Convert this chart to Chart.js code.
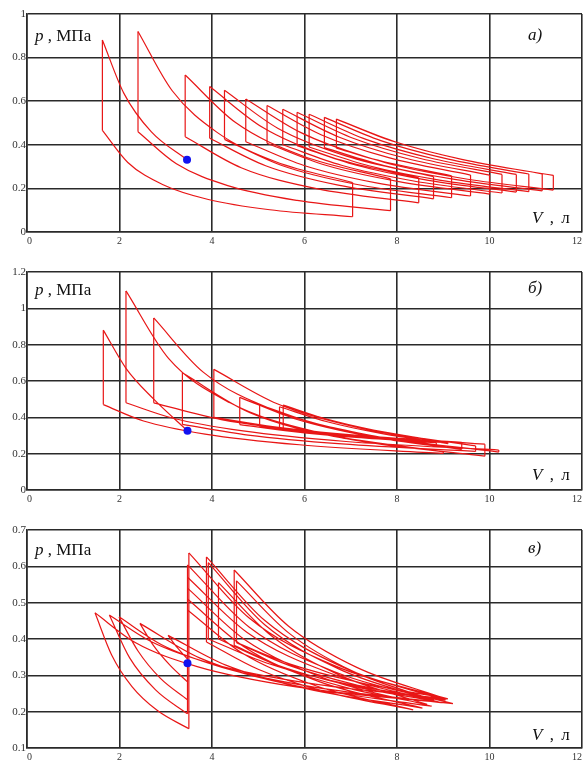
<!DOCTYPE html>
<html>
<head>
<meta charset="utf-8">
<script src="https://cdn.jsdelivr.net/npm/chart.js@4.4.1/dist/chart.umd.min.js"></script>
<style>
  html, body { margin: 0; padding: 0; background: #fff; }
  body { width: 586px; height: 763px; overflow: hidden; position: relative; }
  canvas { position: absolute; left: 0; }
  .lbl { position: absolute; font-family: 'Liberation Serif', 'DejaVu Serif', serif; font-size: 17px; line-height: 17px; color: #111; white-space: nowrap; }
  .lbl i { font-style: italic; }
  .vl { word-spacing: 3px; }
</style>
</head>
<body>
<canvas id="ca" width="586" height="258" style="top:0px"></canvas>
<canvas id="cb" width="586" height="258" style="top:258px"></canvas>
<canvas id="cc" width="586" height="258" style="top:516px"></canvas>

<div class="lbl" style="left:35px;top:26.5px"><i>p</i> , МПа</div>
<div class="lbl" style="left:528px;top:25.5px"><i>а)</i></div>
<div class="lbl vl" style="left:532px;top:209px"><i>V</i> , л</div>

<div class="lbl" style="left:35px;top:280.5px"><i>p</i> , МПа</div>
<div class="lbl" style="left:528px;top:279px"><i>б)</i></div>
<div class="lbl vl" style="left:532px;top:466px"><i>V</i> , л</div>

<div class="lbl" style="left:35px;top:541px"><i>p</i> , МПа</div>
<div class="lbl" style="left:528px;top:538.5px"><i>в)</i></div>
<div class="lbl vl" style="left:532px;top:726px"><i>V</i> , л</div>

<script>
// ---------- tick labels ----------
const xTicks = [0, 2, 4, 6, 8, 10, 12];
const xTickLabels = ['0', '2', '4', '6', '8', '10', '12'];
const yTicksA = [0, 0.2, 0.4, 0.6, 0.8, 1];
const yTickLabelsA = ['0', '0.2', '0.4', '0.6', '0.8', '1'];
const yTicksB = [0, 0.2, 0.4, 0.6, 0.8, 1, 1.2];
const yTickLabelsB = ['0', '0.2', '0.4', '0.6', '0.8', '1', '1.2'];
const yTicksC = [0.1, 0.2, 0.3, 0.4, 0.5, 0.6, 0.7];
const yTickLabelsC = ['0.1', '0.2', '0.3', '0.4', '0.5', '0.6', '0.7'];

// ---------- panel а) ----------
const aDot = [3.46, 0.331];
// isochoric lines [V, p low, p high]
const aLeft = [[1.63,0.466,0.881],[2.40,0.46,0.92],[3.42,0.437,0.72],[3.95,0.43,0.667],[4.27,0.425,0.65],[4.73,0.414,0.61],
               [5.19,0.407,0.58],[5.53,0.40,0.563],[5.84,0.396,0.549],[6.10,0.39,0.54],[6.43,0.387,0.526],[6.69,0.384,0.518]];
const aRight = [[7.04,0.070,0.227],[7.86,0.098,0.244],[8.47,0.134,0.248],[8.79,0.152,0.254],[9.18,0.157,0.258],[9.59,0.165,0.261],
                [10.0,0.174,0.261],[10.27,0.179,0.264],[10.58,0.183,0.264],[10.85,0.185,0.266],[11.14,0.189,0.267],[11.38,0.1925,0.26]];
const aLower = [
  [[1.63,0.466],[2.18,0.319],[2.93,0.218],[3.92,0.149],[5.25,0.102],[7.04,0.070]],
  [[2.40,0.46],[3.23,0.313],[4.34,0.213],[5.84,0.145],[7.86,0.098]],
  [[3.42,0.437],[4.63,0.295],[6.26,0.199],[8.47,0.134]],
  [[3.95,0.43],[5.16,0.304],[6.73,0.215],[8.79,0.152]],
  [[4.27,0.425],[5.51,0.305],[7.11,0.219],[9.18,0.157]],
  [[4.73,0.414],[5.99,0.305],[7.58,0.224],[9.59,0.165]],
  [[5.19,0.407],[6.46,0.306],[8.04,0.231],[10.0,0.174]],
  [[5.53,0.40],[6.80,0.306],[8.36,0.234],[10.27,0.179]],
  [[5.84,0.396],[7.12,0.306],[8.68,0.237],[10.58,0.183]],
  [[6.10,0.39],[7.39,0.304],[8.95,0.237],[10.85,0.185]],
  [[6.43,0.387],[7.72,0.305],[9.28,0.240],[11.14,0.189]],
  [[6.69,0.384],[7.99,0.305],[9.53,0.242],[11.38,0.1925]]
];
const aUpper = [
  [[1.63,0.881],[2.095,0.636],[2.69,0.459],[3.46,0.331]],
  [[2.40,0.92],[3.14,0.648],[4.11,0.457],[5.38,0.322],[7.04,0.227]],
  [[3.42,0.72],[4.51,0.502],[5.95,0.350],[7.86,0.244]],
  [[3.95,0.667],[5.10,0.479],[6.57,0.344],[8.47,0.248]],
  [[4.27,0.65],[5.43,0.475],[6.91,0.348],[8.79,0.254]],
  [[4.73,0.61],[5.90,0.458],[7.36,0.343],[9.18,0.258]],
  [[5.19,0.58],[6.37,0.445],[7.82,0.341],[9.59,0.261]],
  [[5.53,0.563],[6.74,0.436],[8.21,0.337],[10.0,0.261]],
  [[5.84,0.549],[7.05,0.43],[8.51,0.337],[10.27,0.264]],
  [[6.10,0.54],[7.33,0.425],[8.81,0.335],[10.58,0.264]],
  [[6.43,0.526],[7.65,0.419],[9.11,0.334],[10.85,0.266]],
  [[6.69,0.518],[7.93,0.415],[9.40,0.333],[11.14,0.267]],
  [[6.69,0.518],[7.99,0.4115],[9.53,0.327],[11.38,0.26]]
];

// ---------- panel б) ----------
const bDot = [3.47, 0.326];
const bLeft = [[1.65,0.47,0.88],[2.14,0.48,1.096],[2.74,0.48,0.947],[3.36,0.361,0.645],[4.04,0.40,0.664],
               [4.60,0.36,0.51],[5.03,0.35,0.47],[5.46,0.34,0.458],[5.54,0.33,0.467]];
const bRight = [[9.0,0.201,0.210],[10.2,0.209,0.220],[9.9,0.186,0.2525],[9.7,0.2125,0.2425],[9.4,0.224,0.262],
                [8.85,0.245,0.26],[9.1,0.255,0.26],[8.7,0.269,0.278],[8.6,0.265,0.282]];
const bLower = [
  [[1.65,0.47],[2.52,0.380],[3.85,0.308],[5.89,0.249],[9.0,0.201]],
  [[2.14,0.48],[3.16,0.395],[4.67,0.325],[6.90,0.267],[10.2,0.220]],
  [[2.74,0.48],[4.20,0.3875],[6.45,0.313],[9.9,0.2525]],
  [[3.36,0.361],[4.78,0.3025],[6.81,0.2535],[9.7,0.2125]],
  [[4.04,0.40],[5.35,0.3475],[7.09,0.302],[9.4,0.262]],
  [[4.60,0.36],[5.72,0.323],[7.12,0.289],[8.85,0.26]],
  [[5.03,0.35],[6.13,0.317],[7.47,0.287],[9.1,0.26]],
  [[5.46,0.34],[6.38,0.315],[7.45,0.291],[8.7,0.269]],
  [[5.54,0.33],[6.41,0.307],[7.43,0.285],[8.6,0.265]]
];
const bUpper = [
  [[1.65,0.88],[2.14,0.67],[2.74,0.50],[3.47,0.326]],
  [[2.14,1.096],[3.06,0.725],[4.39,0.48],[6.29,0.3175],[9.0,0.21]],
  [[2.74,0.947],[3.81,0.649],[5.29,0.445],[7.34,0.305],[10.2,0.209]],
  [[3.36,0.645],[4.82,0.426],[6.91,0.282],[9.9,0.186]],
  [[4.04,0.664],[5.41,0.475],[7.24,0.339],[9.7,0.2425]],
  [[4.60,0.51],[5.84,0.388],[7.41,0.295],[9.4,0.224]],
  [[5.03,0.47],[6.07,0.378],[7.33,0.305],[8.85,0.245]],
  [[5.46,0.458],[6.47,0.377],[7.68,0.31],[9.1,0.255]],
  [[5.54,0.467],[6.44,0.393],[7.49,0.33],[8.7,0.278]],
  [[5.54,0.467],[6.41,0.3945],[7.43,0.333],[8.6,0.282]]
];

// ---------- panel в) ----------
const cDot = [3.47, 0.333];
const cVert = [[3.47,0.333,0.604],[3.50,0.153,0.637],[3.47,0.194,0.57],[3.47,0.233,0.54],[3.47,0.282,0.51],[3.47,0.345,0.48],
               [3.88,0.392,0.626],[3.92,0.40,0.61],[4.14,0.40,0.555],[4.48,0.383,0.59],[4.53,0.39,0.56]];
const cExpansion = [
  [[3.47,0.604],[4.80,0.433],[6.65,0.310],[9.21,0.222]],
  [[3.50,0.637],[4.81,0.457],[6.62,0.328],[9.10,0.235]],
  [[3.47,0.57],[4.76,0.418],[6.53,0.307],[8.95,0.225]],
  [[3.47,0.54],[4.72,0.397],[6.43,0.292],[8.75,0.215]],
  [[3.47,0.51],[4.69,0.379],[6.33,0.282],[8.55,0.21]],
  [[3.47,0.48],[4.65,0.3615],[6.23,0.272],[8.35,0.205]],
  [[3.88,0.626],[5.15,0.45],[6.82,0.323],[9.05,0.232]],
  [[3.92,0.61],[5.14,0.439],[6.75,0.317],[8.85,0.228]],
  [[4.14,0.555],[5.29,0.408],[6.77,0.30],[8.65,0.22]],
  [[4.48,0.59],[5.65,0.436],[7.13,0.322],[9.0,0.238]],
  [[4.53,0.56],[5.65,0.4175],[7.05,0.311],[8.8,0.232]]
];
const cCompression = [
  [[1.47,0.472],[2.33,0.391],[3.68,0.324],[5.82,0.268],[9.21,0.222]],
  [[1.78,0.466],[2.68,0.393],[4.02,0.331],[6.05,0.279],[9.10,0.235]],
  [[1.99,0.461],[2.90,0.385],[4.22,0.322],[6.14,0.269],[8.95,0.225]],
  [[2.44,0.443],[3.73,0.348],[5.72,0.274],[8.75,0.215]],
  [[3.05,0.41],[4.30,0.328],[6.06,0.2625],[8.55,0.21]],
  [[3.88,0.392],[5.01,0.316],[6.47,0.2545],[8.35,0.205]],
  [[3.92,0.40],[5.18,0.334],[6.85,0.278],[9.05,0.232]],
  [[4.14,0.40],[5.33,0.332],[6.87,0.275],[8.85,0.228]],
  [[4.48,0.383],[5.58,0.318],[6.95,0.265],[8.65,0.22]],
  [[4.53,0.39],[5.69,0.331],[7.16,0.281],[9.0,0.238]],
  [[4.53,0.39],[5.65,0.328],[7.05,0.276],[8.8,0.232]]
];
const cDescent = [
  [[1.47,0.472],[1.83,0.356],[2.27,0.269],[2.82,0.203],[3.50,0.153]],
  [[1.78,0.466],[2.22,0.348],[2.78,0.26],[3.47,0.194]],
  [[1.99,0.461],[2.40,0.367],[2.88,0.2925],[3.47,0.233]],
  [[2.44,0.443],[2.74,0.381],[3.09,0.328],[3.47,0.282]],
  [[3.05,0.41],[3.25,0.376],[3.47,0.345]]
];

// ---------- helpers (only assemble library datasets) ----------
const RED = 'rgb(232,22,22)';
const GRID = '#2a2a2a';

function verticalPoints(list) {
  const pts = [];
  list.forEach(([v, lo, hi]) => { pts.push({x: v, y: lo}, {x: v, y: hi}, {x: v, y: null}); });
  return pts;
}
function curvePoints(groups) {
  const pts = [];
  groups.forEach(g => {
    g.forEach(([v, p]) => pts.push({x: v, y: p}));
    pts.push({x: g[g.length - 1][0], y: null});
  });
  return pts;
}
function datasetsFor(dot, verticals, curves) {
  return [
    { data: [{x: dot[0], y: dot[1]}], showLine: false, pointRadius: 4, pointHoverRadius: 4,
      pointBackgroundColor: 'rgb(18,18,240)', pointBorderWidth: 0 },
    { data: verticalPoints(verticals), showLine: true, borderColor: RED, borderWidth: 1.2,
      pointRadius: 0, tension: 0, spanGaps: false },
    { data: curvePoints(curves), showLine: true, borderColor: RED, borderWidth: 1.2,
      pointRadius: 0, cubicInterpolationMode: 'monotone', spanGaps: false }
  ];
}

function makeChart(id, yMin, yMax, yTicks, yLabels, datasets) {
  return new Chart(document.getElementById(id), {
    type: 'scatter',
    data: { datasets },
    options: {
      responsive: false,
      animation: false,
      devicePixelRatio: 1,
      events: [],
      layout: { padding: { left: 0, right: 2, top: 14, bottom: 6 } },
      plugins: { legend: { display: false }, tooltip: { enabled: false } },
      scales: {
        x: {
          type: 'linear', min: 0, max: 12,
          afterBuildTicks: s => { s.ticks = xTicks.map(v => ({ value: v })); },
          afterFit: s => { s.height = 20; },
          ticks: {
            callback: (v, i) => xTickLabels[i],
            align: 'inner', padding: 3, maxRotation: 0, autoSkip: false,
            color: '#333', font: { family: 'Liberation Serif', size: 10 }
          },
          grid: { color: GRID, lineWidth: 1.6, drawTicks: false },
          border: { display: true, color: GRID, width: 1.6 }
        },
        y: {
          type: 'linear', min: yMin, max: yMax,
          afterBuildTicks: s => { s.ticks = yTicks.map(v => ({ value: v })); },
          afterFit: s => { s.width = 27; },
          ticks: {
            callback: (v, i) => yLabels[i],
            padding: 1, autoSkip: false,
            color: '#333', font: { family: 'Liberation Serif', size: 11 }
          },
          grid: { color: GRID, lineWidth: 1.6, drawTicks: false },
          border: { display: true, color: GRID, width: 1.6 }
        }
      }
    }
  });
}

makeChart('ca', 0, 1, yTicksA, yTickLabelsA,
  datasetsFor(aDot, aLeft.concat(aRight), aLower.concat(aUpper)));
makeChart('cb', 0, 1.2, yTicksB, yTickLabelsB,
  datasetsFor(bDot, bLeft.concat(bRight), bLower.concat(bUpper)));
makeChart('cc', 0.1, 0.7, yTicksC, yTickLabelsC,
  datasetsFor(cDot, cVert, cExpansion.concat(cCompression, cDescent)));
</script>
</body>
</html>
